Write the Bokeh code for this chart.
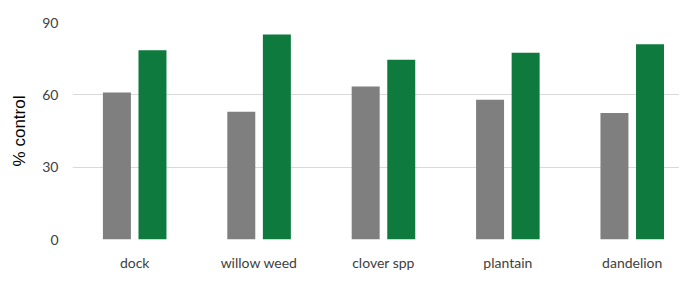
import numpy as np
from bokeh.plotting import figure
from bokeh.models import Range1d, FixedTicker, ColumnDataSource, Legend, LegendItem
from bokeh.embed import file_html
from bokeh.resources import INLINE

categories = ["dock", "willow weed", "clover spp", "plantain", "dandelion"]
glyphosate = [61, 53, 63.5, 58, 52.5]
glyphosate_sharpen = [78.5, 85, 74.5, 77.5, 81]
series_names = ["Glyphosate", "Glyphosate + Sharpen"]
colors = ["#7f7f7f", "#0e7a3d"]
y_ticks = [0, 30, 60, 90]

centers = np.arange(len(categories)) + 0.5
off = 0.143
bw = 0.225

p = figure(frame_width=607, frame_height=217, output_backend="svg", toolbar_location=None,
           x_range=Range1d(0, 4.88), y_range=Range1d(0, 90),
           min_border_left=72, min_border_right=0, min_border_top=22, min_border_bottom=0)
p.outline_line_color = None

src = ColumnDataSource(dict(x1=centers - off, x2=centers + off, g=glyphosate, s=glyphosate_sharpen))
r1 = p.vbar(x="x1", top="g", width=bw, source=src, fill_color=colors[0], line_color=None)
r2 = p.vbar(x="x2", top="s", width=bw, source=src, fill_color=colors[1], line_color=None)

p.xaxis.ticker = FixedTicker(ticks=list(centers))
p.xaxis.major_label_overrides = {float(c): n for c, n in zip(centers, categories)}
p.yaxis.ticker = FixedTicker(ticks=y_ticks)
for ax in (p.xaxis[0], p.yaxis[0]):
    ax.axis_line_color = None
    ax.major_tick_line_color = None
    ax.minor_tick_line_color = None
    ax.major_tick_out = 0
    ax.major_tick_in = 0
    ax.minor_tick_out = 0
    ax.minor_tick_in = 0
    ax.major_label_text_font = "Lato"
    ax.major_label_text_font_size = "14px"
    ax.major_label_text_color = "#404040"
p.xaxis.major_label_standoff = 14
p.yaxis.major_label_standoff = 14
p.yaxis.axis_label = "% control"
p.yaxis.axis_label_text_font = "Liberation Sans"
p.yaxis.axis_label_text_font_style = "normal"
p.yaxis.axis_label_text_font_size = "17px"
p.yaxis.axis_label_text_color = "#000000"
p.yaxis.axis_label_standoff = 10

p.xgrid.grid_line_color = None
p.ygrid.grid_line_color = "#d9d9d9"
p.ygrid.grid_line_width = 1
p.ygrid.ticker = FixedTicker(ticks=y_ticks)

legend = Legend(items=[LegendItem(label=series_names[0], renderers=[r1]),
                       LegendItem(label=series_names[1], renderers=[r2])],
                orientation="horizontal", location="top_center",
                background_fill_alpha=0, border_line_color=None,
                label_text_font="Lato", label_text_font_size="14px", label_text_color="#404040",
                label_height=16, glyph_width=8, glyph_height=8, spacing=20, label_standoff=5,
                padding=0, margin=5)
p.add_layout(legend, "below")

open("out.html", "w").write(file_html(p, INLINE))
